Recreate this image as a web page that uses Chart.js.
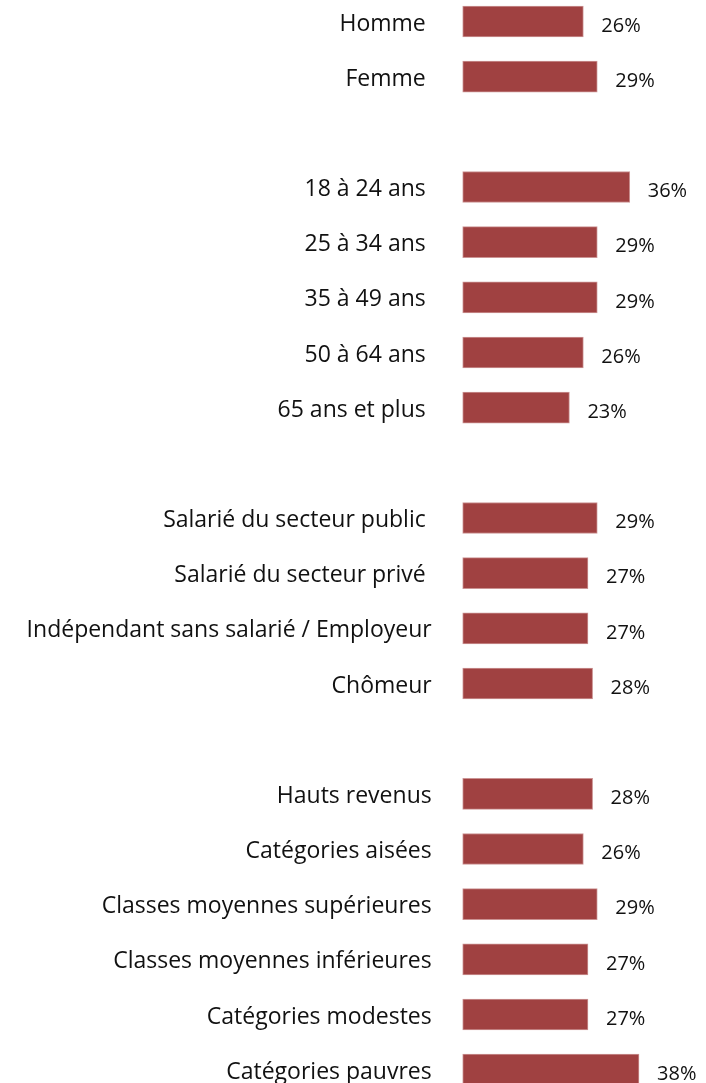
<!DOCTYPE html>
<html lang="fr">
<head>
<meta charset="utf-8">
<script src="https://cdn.jsdelivr.net/npm/chart.js@4"></script>
<style>
  html, body { margin: 0; padding: 0; background: #fff; }
  #wrap { width: 706px; height: 1083px; position: relative; }
</style>
</head>
<body>
<div id="wrap"><canvas id="barChart"></canvas></div>
<script>
// Catégories (les chaînes vides font les espaces entre les groupes)
const categories = [
  "Homme ", "Femme ", "",
  "18 à 24 ans ", "25 à 34 ans ", "35 à 49 ans ", "50 à 64 ans ", "65 ans et plus ", "",
  "Salarié du secteur public ", "Salarié du secteur privé ",
  "Indépendant sans salarié / Employeur", "Chômeur", "",
  "Hauts revenus", "Catégories aisées", "Classes moyennes supérieures",
  "Classes moyennes inférieures", "Catégories modestes", "Catégories pauvres"
];
const values = [
  26, 29, null,
  36, 29, 29, 26, 23, null,
  29, 27, 27, 28, null,
  28, 26, 29, 27, 27, 38
];

document.addEventListener("DOMContentLoaded", function () {
  // Étiquettes de valeur à droite des barres
  const valueLabels = {
    id: "valueLabels",
    afterDatasetsDraw(chart) {
      const ctx = chart.ctx;
      const meta = chart.getDatasetMeta(0);
      ctx.save();
      ctx.font = "20px 'Open Sans'";
      ctx.fillStyle = "#111";
      ctx.textAlign = "left";
      ctx.textBaseline = "middle";
      meta.data.forEach((bar, i) => {
        if (values[i] == null) return;
        ctx.fillText(values[i] + "%", bar.x + 18, bar.y + 4.5);
      });
      ctx.restore();
    },
  };

  const ctx = document.getElementById("barChart").getContext("2d");
  new Chart(ctx, {
    type: "bar",
    data: {
      labels: categories,
      datasets: [
        {
          data: values,
          backgroundColor: "#A04141",
          borderColor: "rgba(190, 120, 120, 0.8)",
          borderWidth: 1,
          borderSkipped: false,
          barThickness: 31,
          clip: false,
        },
      ],
    },
    options: {
      indexAxis: "y",
      responsive: true,
      maintainAspectRatio: false,
      animation: false,
      layout: {
        padding: { top: 21.5, bottom: 13.3, left: 0, right: 11.3 },
      },
      plugins: {
        legend: { display: false },
        tooltip: { enabled: false },
      },
      scales: {
        x: {
          display: false,
          min: 0,
          max: 50,
        },
        y: {
          offset: false,
          grid: { display: false, drawTicks: false },
          border: { display: false },
          ticks: {
            autoSkip: false,
            padding: 31,
            labelOffset: 2.5,
            color: "#111",
            font: { family: "'Open Sans'", size: 23, lineHeight: 1 },
          },
          afterFit: function (scale) {
            scale.width = 462.7;
            scale.paddingTop = 0;
            scale.paddingBottom = 0;
          },
        },
      },
    },
    plugins: [valueLabels],
  });
});
</script>
</body>
</html>
